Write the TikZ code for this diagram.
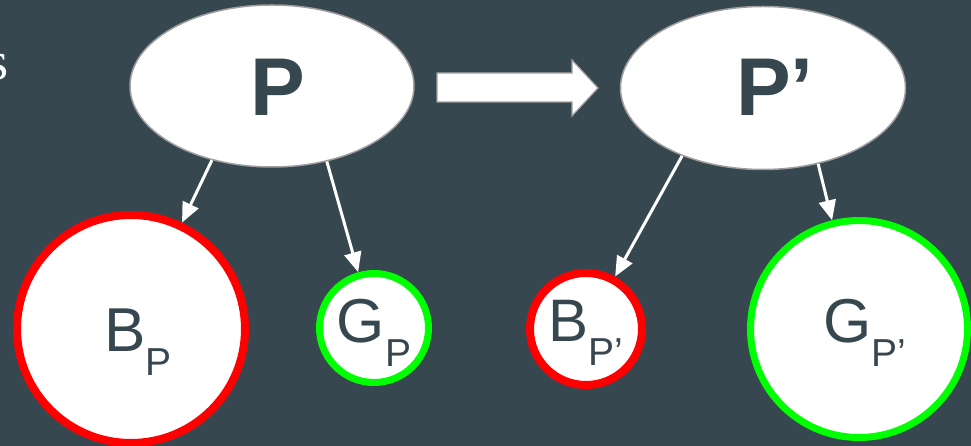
\documentclass[tikz,border=0pt]{standalone}
\usepackage{fontspec}
\setmainfont{Liberation Sans}
\newfontfamily\seriffont{Liberation Serif}
\usetikzlibrary{shapes.geometric,arrows.meta}
\definecolor{bgc}{HTML}{37474F}
\definecolor{txc}{HTML}{37474F}
\definecolor{rimgray}{HTML}{9E9E9E}
\definecolor{redc}{HTML}{FF0000}
\definecolor{greenc}{HTML}{00FF00}
\tikzset{
  oval/.style={ellipse, draw=rimgray, line width=1.5pt, fill=white, inner sep=0pt},
  ovaltext/.style={text=txc, inner sep=0pt, font=\fontsize{82}{82}\selectfont\bfseries},
  ballred/.style={circle, draw=redc, line width=8pt, fill=white, inner sep=0pt},
  ballgreen/.style={circle, draw=greenc, line width=7pt, fill=white, inner sep=0pt},
  lbl/.style={text=txc, inner sep=0pt, font=\fontsize{62}{62}\selectfont},
  conn/.style={draw=white, line width=3pt, -{Triangle[length=20pt,width=17pt,fill=white]}},
}
\newcommand{\subl}[1]{\raisebox{-24pt}{\fontsize{39}{39}\selectfont #1}}
\begin{document}
\begin{tikzpicture}[x=1pt,y=-1pt]
\fill[bgc] (0,0) rectangle (971,446);
\useasboundingbox (0,0) rectangle (971,446);
% cut-off word end
\node[anchor=base east, text=white, inner sep=0pt, font=\seriffont\fontsize{54}{54}\selectfont] (s) at (9,80) {s};
% ellipses
\node[oval, minimum width=284pt, minimum height=162pt] (P) at (272,86) {};
\node[oval, minimum width=285pt, minimum height=163pt] (Pp) at (763,88) {};
\node[ovaltext] (Pl) at (278,87) {P};
\node[ovaltext] (Ppl) at (775,87) {P’};
% block arrow
\draw[fill=white, draw=rimgray, line width=1.2pt] (437,73) -- (572,73) -- (572,60) -- (598,88) -- (572,116) -- (572,102) -- (437,102) -- cycle;
% circles
\node[ballred, minimum size=228pt] (BP) at (131,329) {};
\node[ballgreen, minimum size=109pt] (GP) at (374,328) {};
\node[ballred, minimum size=112pt] (BPp) at (586,329) {};
\node[ballgreen, minimum size=217pt] (GPp) at (859,329) {};
% labels
\node[lbl] (BPl) at (138,342) {B\subl{P}};
\node[lbl] (GPl) at (374,333) {G\subl{P}};
\node[lbl, font=\fontsize{60}{60}\selectfont] (BPpl) at (586,333) {B\subl{P’}};
\node[lbl] (GPpl) at (865,333) {G\subl{P’}};
% connectors
\draw[conn] (P.231) -- (BP);
\draw[conn] (P.306) -- (GP);
\draw[conn] (Pp.220) -- (BPp);
\draw[conn] (Pp.306) -- (GPp);
\end{tikzpicture}
\end{document}
